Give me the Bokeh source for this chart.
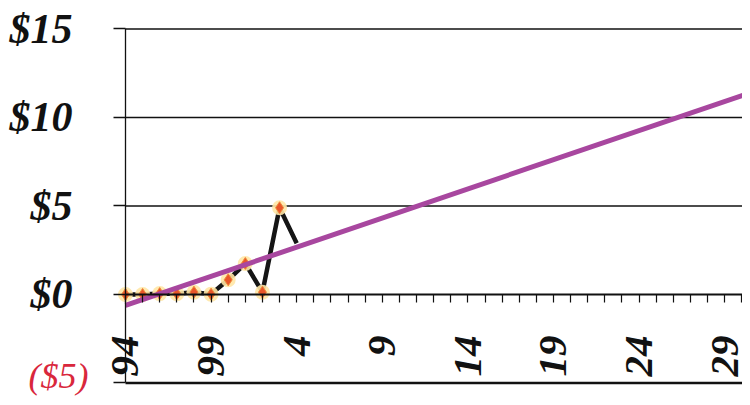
import math
from bokeh.plotting import figure
from bokeh.models import FixedTicker, Range1d, Label, Grid, LinearAxis
from bokeh.embed import file_html
from bokeh.resources import INLINE

# ---- data ----
# x = years after 1994 (0 -> '94, 10 -> 2004)
hist_x = [0, 1, 2, 3, 4, 5, 6, 7, 8, 9, 10]
hist_y = [0.0, 0.0, 0.05, 0.04, 0.13, 0.02, 0.83, 1.75, 0.13, 4.9, 2.9]
marker_x = [0, 1, 2, 3, 4, 5, 6, 7, 8, 9]
marker_y = [0.0, 0.0, 0.05, 0.04, 0.13, 0.02, 0.83, 1.75, 0.13, 4.9]
trend_x = [0, 36.5]
trend_y = [-0.62, 11.4]
x_tick_pos = list(range(0, 37))
x_label_pos = [0, 5, 10, 15, 20, 25, 30, 35]
x_labels = ["94", "99", "4", "9", "14", "19", "24", "29"]
y_ticks = [-5, 0, 5, 10, 15]
y_labels = ["", "$0", "$5", "$10", "$15"]
grid_levels = [5, 10, 15]
bottom_level = [-5]
neg_label = "($5)"

FONT = "Liberation Serif"
X_END = 36.04

p = figure(width=742, height=397, x_range=Range1d(-7.30, X_END), y_range=Range1d(-5.82, 16.61),
           output_backend="svg", toolbar_location=None,
           x_axis_location=None, y_axis_location=None,
           min_border_left=0, min_border_top=0, min_border_bottom=0, min_border_right=0)
p.outline_line_color = None
p.background_fill_color = "white"
p.border_fill_color = "white"
# remove any default grids
p.center = [r for r in p.center if not isinstance(r, Grid)]

# grid lines (start at the y axis, end at the right edge)
p.segment(x0=[0] * len(grid_levels), x1=[X_END] * len(grid_levels),
          y0=grid_levels, y1=grid_levels, line_color="#111111", line_width=1.3)
p.segment(x0=[0], x1=[X_END], y0=bottom_level, y1=bottom_level,
          line_color="#111111", line_width=2.5)

# y axis at x = 0
ya = LinearAxis(fixed_location=0, bounds=(-5, 15))
ya.ticker = FixedTicker(ticks=y_ticks)
ya.major_label_overrides = {t: l for t, l in zip(y_ticks, y_labels)}
ya.major_tick_out = 12
ya.major_tick_in = 0
ya.minor_tick_out = 0
ya.minor_tick_in = 0
ya.axis_line_color = "#111111"
ya.axis_line_width = 1.3
ya.major_tick_line_color = "#111111"
ya.major_tick_line_width = 1.3
ya.major_label_text_font = FONT
ya.major_label_text_font_style = "bold italic"
ya.major_label_text_font_size = "42px"
ya.major_label_text_color = "#111111"
ya.major_label_standoff = 41
p.add_layout(ya, "left")

# x axis at y = 0
xa = LinearAxis(fixed_location=0, bounds=(0, X_END))
xa.ticker = FixedTicker(ticks=x_tick_pos)
ov = {t: "" for t in x_tick_pos}
ov.update({t: l for t, l in zip(x_label_pos, x_labels)})
xa.major_label_overrides = ov
xa.major_label_orientation = math.pi / 2
xa.major_tick_out = 8
xa.major_tick_in = 0
xa.minor_tick_out = 0
xa.minor_tick_in = 0
xa.axis_line_color = "#111111"
xa.axis_line_width = 2
xa.major_tick_line_color = "#111111"
xa.major_tick_line_width = 1.2
xa.major_label_text_font = FONT
xa.major_label_text_font_style = "bold italic"
xa.major_label_text_font_size = "41px"
xa.major_label_text_color = "#111111"
xa.major_label_standoff = 33
p.add_layout(xa, "below")

# red negative label
p.add_layout(Label(x=-2.16, y=-4.62, text=neg_label, text_align="right", text_baseline="middle",
                   text_color="#d9273c", text_font=FONT, text_font_style="italic",
                   text_font_size="36px"))

# series
p.line(hist_x, hist_y, line_color="#151515", line_width=4.5)
p.scatter(marker_x, marker_y, marker="circle", size=15, fill_color="#ffe7a6",
          line_color=None, fill_alpha=0.9)
p.scatter(marker_x, marker_y, marker="diamond", size=12, fill_color="#e8562a",
          line_color="#f08a3a", line_width=1)
p.line(trend_x, trend_y, line_color="#a8479f", line_width=5)

open("out.html", "w").write(file_html(p, INLINE))
